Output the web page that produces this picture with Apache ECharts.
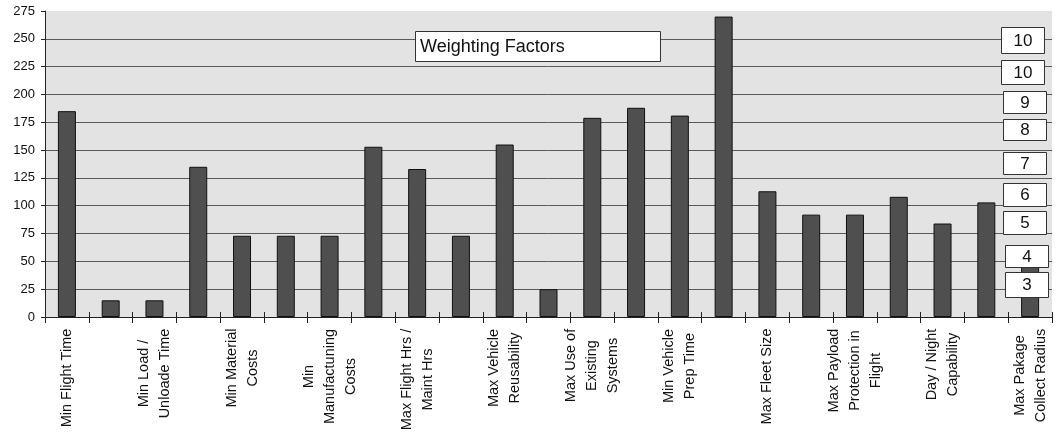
<!DOCTYPE html>
<html>
<head>
<meta charset="utf-8">
<script src="https://cdn.jsdelivr.net/npm/echarts@6/dist/echarts.min.js"></script>
<style>
  html, body { margin: 0; padding: 0; background: #ffffff; }
  #chart { width: 1057px; height: 434px; }
</style>
</head>
<body>
<div id="chart"></div>
<script>
// Design criteria (every other one carries a printed label)
const criteria = [
  'Min Flight Time', '',
  'Min Load /\nUnloade Time', '',
  'Min Material\nCosts', '',
  'Min\nManufactuning\nCosts', '',
  'Max Flight Hrs /\nMaint Hrs', '',
  'Max Vehicle\nReusability', '',
  'Max Use of\nExisting\nSystems', '',
  'Min Vehicle\nPrep Time', '',
  'Max Fleet Size', '',
  'Max Payload\nProtection in\nFlight', '',
  'Day / Night\nCapability', '',
  'Max Pakage\nCollect Radius'
];

// Weighted scores per criterion
const scores = [185, 15, 15, 135, 73, 73, 73, 153, 133, 73, 155, 25,
                179, 188, 181, 270, 113, 92, 92, 108, 84, 103, 48];

// Value axis ticks
const yTicks = { min: 0, max: 275, interval: 25 };

// Legend box entries
const legendTitle = 'Weighting Factors';
const weightFactors = ['10', '10', '9', '8', '7', '6', '5', '4', '3'];

const FONT = '"Liberation Sans", Arial, Helvetica, sans-serif';
const LABEL_SIZE = 14.5;

// Measure each label's widest line so its lines can be centred on each other
const ctx = document.createElement('canvas').getContext('2d');
ctx.font = LABEL_SIZE + 'px ' + FONT;
const rich = {};
criteria.forEach(function (name, i) {
  const w = Math.max.apply(null, name.split('\n').map(function (l) { return ctx.measureText(l).width; }));
  rich['c' + i] = {
    width: Math.ceil(w) + 1, align: 'center',
    fontSize: LABEL_SIZE, lineHeight: 21, fontFamily: FONT, color: '#111'
  };
});

// Stacked boxes on the right-hand side
const boxLayout = [
  { x: 1001, y: 27, h: 26 }, { x: 1001, y: 60, h: 24 }, { x: 1003, y: 91, h: 22 },
  { x: 1003, y: 119, h: 21 }, { x: 1003, y: 152, h: 22 }, { x: 1003, y: 183, h: 23 },
  { x: 1003, y: 211, h: 23 }, { x: 1005, y: 245, h: 22 }, { x: 1005, y: 272, h: 25 }
];
const boxWidth = 43;

const graphics = [
  {
    type: 'rect', z: 100,
    shape: { x: 415.5, y: 31.5, width: 245, height: 30 },
    style: { fill: '#ffffff', stroke: '#333', lineWidth: 1 }
  },
  {
    type: 'text', z: 101, x: 420, y: 47,
    style: { text: legendTitle, fontSize: 18, fontFamily: FONT, fill: '#111', verticalAlign: 'middle', align: 'left' }
  }
];
weightFactors.forEach(function (t, i) {
  const b = boxLayout[i];
  graphics.push({
    type: 'rect', z: 100,
    shape: { x: b.x + 0.5, y: b.y + 0.5, width: boxWidth, height: b.h },
    style: { fill: '#ffffff', stroke: '#333', lineWidth: 1 }
  });
  graphics.push({
    type: 'text', z: 101, x: b.x + boxWidth / 2 + 0.5, y: b.y + b.h / 2 + 1,
    style: { text: t, fontSize: 17, fontFamily: FONT, fill: '#111', align: 'center', verticalAlign: 'middle' }
  });
});

const chart = echarts.init(document.getElementById('chart'), null, { renderer: 'canvas' });
chart.setOption({
  animation: false,
  backgroundColor: '#ffffff',
  grid: {
    left: 45, right: 5, top: 11, bottom: 117,
    show: true, backgroundColor: '#e3e3e3', borderWidth: 0,
    containLabel: false, outerBoundsMode: 'none'
  },
  xAxis: [
    {
      type: 'category',
      data: criteria,
      boundaryGap: true,
      axisLine: { show: true, lineStyle: { color: '#222', width: 1 } },
      axisTick: { show: true, interval: 0, alignWithLabel: false, length: 6, lineStyle: { color: '#222' } },
      axisLabel: {
        interval: 0, rotate: 90, margin: 11,
        hideOverlap: false,
        fontSize: LABEL_SIZE, fontFamily: FONT, color: '#111',
        formatter: function (value, index) {
          if (!value) return '';
          return value.split('\n').map(function (l) { return '{c' + index + '|' + l + '}'; }).join('\n');
        },
        rich: rich
      },
      splitLine: { show: false }
    },
    {
      type: 'category',
      data: criteria,
      position: 'bottom',
      boundaryGap: true,
      axisLine: { show: false },
      axisTick: { show: true, inside: true, interval: 0, length: 5, lineStyle: { color: '#222' } },
      axisLabel: { show: false },
      splitLine: { show: false }
    }
  ],
  yAxis: {
    type: 'value',
    min: yTicks.min, max: yTicks.max, interval: yTicks.interval,
    axisLine: { show: true, lineStyle: { color: '#222', width: 1 } },
    axisTick: { show: true, length: 4, lineStyle: { color: '#222' } },
    axisLabel: { fontSize: 13, fontFamily: FONT, color: '#111', margin: 10 },
    splitLine: { show: true, showMaxLine: false, lineStyle: { color: '#5a5a5a', width: 1 } }
  },
  series: [{
    type: 'bar',
    xAxisIndex: 0,
    data: scores,
    barWidth: 18,
    itemStyle: { color: '#4f4f4f', borderColor: '#111', borderWidth: 1 }
  }],
  graphic: graphics
});
</script>
</body>
</html>
